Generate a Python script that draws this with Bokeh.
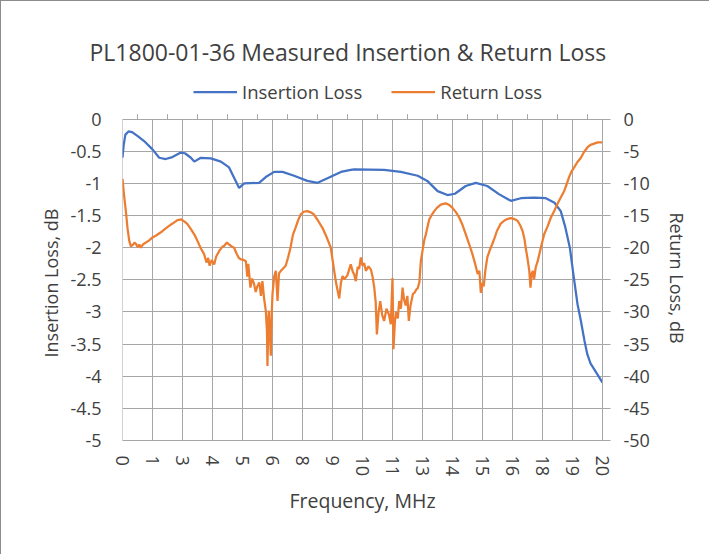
import math
from bokeh.plotting import figure
from bokeh.models import (Range1d, LinearAxis, FixedTicker, Legend, Title,
                          LegendItem, ColumnDataSource)
from bokeh.layouts import column
from bokeh.embed import file_html
from bokeh.resources import INLINE

# ---------------- data ----------------
title_text = "PL1800-01-36 Measured Insertion & Return Loss"
series_names = ["Insertion Loss", "Return Loss"]
x_title = "Frequency, MHz"
il_title = "Insertion Loss, dB"
rl_title = "Return Loss, dB"

x_tick_labels = ["0", "1", "3", "4", "5", "6", "8", "9", "10", "11",
                 "13", "14", "15", "16", "18", "19", "20"]
il_tick_labels = ["0", "-0.5", "-1", "-1.5", "-2", "-2.5", "-3", "-3.5",
                  "-4", "-4.5", "-5"]
rl_tick_labels = ["0", "-5", "-10", "-15", "-20", "-25", "-30", "-35",
                  "-40", "-45", "-50"]

il_freq = [0.0, 0.05, 0.12, 0.25, 0.4, 0.62, 0.9, 1.25, 1.53, 1.8, 2.08,
           2.43, 2.6, 2.85, 2.99, 3.26, 3.68, 4.1, 4.44, 4.65, 4.86, 5.07,
           5.69, 5.97, 6.32, 6.67, 7.15, 7.7, 8.13, 8.54, 9.1, 9.51, 9.65,
           10.9, 11.6, 12.3, 12.7, 13.13, 13.54, 13.85, 14.3, 14.72, 15.2,
           15.7, 16.18, 16.6, 17.15, 17.64, 18.0, 18.26, 18.45, 18.64, 18.8,
           18.96, 19.1, 19.25, 19.37, 19.5, 19.65, 19.8, 20.0]
il_db = [-0.60, -0.40, -0.24, -0.19, -0.20, -0.26, -0.34, -0.47, -0.60,
         -0.62, -0.59, -0.52, -0.53, -0.60, -0.66, -0.60, -0.61, -0.66,
         -0.75, -0.91, -1.07, -1.00, -0.99, -0.90, -0.82, -0.82, -0.88,
         -0.96, -0.99, -0.92, -0.82, -0.79, -0.78, -0.79, -0.82, -0.88,
         -0.96, -1.12, -1.18, -1.16, -1.04, -0.99, -1.04, -1.17, -1.27,
         -1.23, -1.22, -1.23, -1.30, -1.43, -1.68, -2.00, -2.45, -2.88,
         -3.14, -3.45, -3.66, -3.80, -3.89, -3.98, -4.10]

rl_freq = [0.0, 0.07, 0.14, 0.21, 0.28, 0.35, 0.42, 0.5, 0.56, 0.63, 0.7,
           0.76, 0.85, 0.97, 1.1, 1.25, 1.4, 1.6, 1.8, 1.94, 2.1, 2.29, 2.45,
           2.57, 2.7, 2.85, 3.0, 3.12, 3.25, 3.4, 3.5, 3.57, 3.63, 3.72, 3.82,
           3.9, 4.03, 4.15, 4.24, 4.35, 4.44, 4.55, 4.65, 4.75, 4.85, 4.93,
           5.05, 5.14, 5.2, 5.24, 5.28, 5.33, 5.4, 5.48, 5.55, 5.62, 5.7,
           5.77, 5.83, 5.9, 5.97, 6.02, 6.04, 6.08, 6.1, 6.15, 6.18, 6.22,
           6.25, 6.32, 6.39, 6.46, 6.52, 6.6, 6.7, 6.8, 6.9, 7.0, 7.1, 7.22,
           7.33, 7.43, 7.55, 7.7, 7.85, 7.97, 8.15, 8.33, 8.5, 8.68, 8.75,
           8.82, 8.9, 9.03, 9.1, 9.17, 9.24, 9.37, 9.51, 9.6, 9.65, 9.72,
           9.8, 9.86, 9.93, 10.0, 10.07, 10.14, 10.25, 10.35, 10.42, 10.49,
           10.55, 10.6, 10.67, 10.74, 10.82, 10.9, 11.0, 11.1, 11.18, 11.25,
           11.29, 11.35, 11.4, 11.47, 11.53, 11.6, 11.67, 11.73, 11.8, 11.87,
           11.93, 12.0, 12.1, 12.17, 12.24, 12.3, 12.37, 12.43, 12.5, 12.57,
           12.64, 12.7, 12.78, 12.9, 12.99, 13.1, 13.26, 13.47, 13.6, 13.75,
           13.9, 14.03, 14.15, 14.3, 14.45, 14.58, 14.7, 14.8, 14.87, 14.93,
           15.0, 15.05, 15.12, 15.2, 15.3, 15.4, 15.5, 15.6, 15.75, 15.9,
           16.05, 16.18, 16.3, 16.46, 16.57, 16.67, 16.75, 16.8, 16.88, 16.95,
           17.0, 17.05, 17.1, 17.15, 17.22, 17.3, 17.43, 17.57, 17.7, 17.85,
           18.0, 18.12, 18.26, 18.4, 18.5, 18.6, 18.7, 18.82, 18.95, 19.1,
           19.23, 19.37, 19.5, 19.65, 19.8, 20.0]
rl_db = [-9.3, -12.0, -14.3, -17.0, -18.9, -19.8, -19.6, -19.2, -19.4, -19.9,
         -19.5, -20.0, -19.5, -19.2, -18.9, -18.4, -18.1, -17.6, -17.0, -16.6,
         -16.2, -15.7, -15.6, -15.9, -16.3, -17.1, -18.0, -18.9, -20.0, -21.0,
         -22.3, -21.6, -22.8, -21.9, -22.6, -21.4, -20.5, -19.9, -19.7, -19.2,
         -19.5, -19.8, -20.0, -20.9, -21.6, -21.8, -21.9, -22.1, -24.5, -22.5,
         -24.1, -26.2, -24.8, -25.6, -26.9, -26.0, -25.4, -27.5, -25.2, -27.9,
         -29.8, -33.0, -38.4, -31.0, -29.8, -34.0, -36.8, -30.0, -27.2, -24.5,
         -23.6, -28.3, -24.0, -23.6, -23.2, -22.8, -21.5, -20.0, -18.0, -16.8,
         -15.6, -14.8, -14.4, -14.3, -14.5, -14.8, -15.8, -16.9, -18.3, -20.0,
         -21.8, -23.6, -25.5, -27.9, -25.5, -24.4, -24.9, -24.3, -22.6, -23.8,
         -24.1, -25.2, -23.0, -23.3, -21.5, -22.8, -22.4, -23.6, -22.9, -23.4,
         -24.5, -26.2, -28.5, -33.5, -30.0, -28.3, -30.5, -31.4, -29.5, -30.4,
         -31.9, -24.7, -35.8, -31.5, -30.0, -31.0, -28.3, -29.5, -26.2, -28.0,
         -29.0, -27.5, -31.4, -29.0, -27.2, -27.0, -26.5, -26.3, -25.4, -22.1,
         -20.5, -18.9, -17.9, -16.9, -15.6, -14.8, -14.3, -13.8, -13.3, -13.1,
         -13.3, -13.8, -14.5, -15.3, -16.3, -17.9, -19.5, -21.0, -22.6, -24.1,
         -23.6, -27.0, -25.5, -26.0, -23.5, -21.5, -20.4, -19.5, -18.5, -17.4,
         -16.3, -15.8, -15.5, -15.4, -15.5, -15.8, -16.5, -17.4, -18.7, -20.0,
         -21.8, -23.6, -26.2, -24.0, -23.6, -24.9, -23.0, -22.1, -20.0, -17.9,
         -16.8, -15.3, -14.2, -13.2, -12.2, -11.2, -10.2, -9.1, -8.2, -7.5,
         -6.7, -6.0, -5.1, -4.4, -4.0, -3.8, -3.6, -3.6]

# ---------------- styling / layout ----------------
FONT = "Open Sans"
TXT = "#404040"
GRID = "#a6a6a6"
BLUE = "#4472C4"
ORANGE = "#ED7D31"

W, H = 708, 553
LEFT, TOP = 121, 71          # canvas px of frame's top-left corner
FRAME_W, FRAME_H = 480, 368  # frame also holds the legend area
PX_PER_DB = 64.26            # left-axis pixels per dB (0 .. -5 spans 321 px)

x_lo, x_hi = 0.0, 20.0
step = (x_hi - x_lo) / (len(x_tick_labels) - 1)
x_pos = [x_lo + i * step for i in range(len(x_tick_labels))]
x_mid = [x_lo + (i + 0.5) * step for i in range(len(x_tick_labels) - 1)]
il_pos = [0.0 - 0.5 * i for i in range(len(il_tick_labels))]
rl_pos = [0.0 - 5.0 * i for i in range(len(rl_tick_labels))]
rl_scale = rl_pos[-1] / il_pos[-1]

il_bottom = il_pos[-1]
il_top = il_bottom + FRAME_H / PX_PER_DB

p = figure(width=W, height=H, output_backend="svg", toolbar_location=None,
           x_range=Range1d(x_lo, x_hi), y_range=Range1d(il_bottom, il_top),
           min_border_left=LEFT, min_border_right=W - LEFT - FRAME_W,
           min_border_top=TOP, min_border_bottom=H - TOP - FRAME_H)
p.extra_y_ranges = {"rl": Range1d(il_bottom * rl_scale, il_top * rl_scale)}
p.outline_line_color = None
p.background_fill_color = "white"
p.border_fill_color = "white"
p.xgrid.visible = False

# chart title (top panel), left edge 33 px left of the frame
p.title.text = title_text
p.title.align = "left"
p.title.offset = -33
p.title.text_font = FONT
p.title.text_font_size = "23px"
p.title.text_font_style = "normal"
p.title.text_color = TXT

# bottom axis
xa = p.xaxis[0]
xa.ticker = FixedTicker(ticks=x_pos)
xa.major_label_overrides = {pos: lab for pos, lab in zip(x_pos, x_tick_labels)}
xa.major_label_orientation = -math.pi / 2
xa.major_tick_out = 0
xa.major_tick_in = 0
xa.minor_tick_out = 0
xa.minor_tick_in = 0
xa.axis_line_color = GRID
xa.major_label_standoff = 15
xa.major_label_text_font = FONT
xa.major_label_text_font_size = "18px"
xa.major_label_text_color = TXT
xa.axis_label = x_title
xa.axis_label_text_font = FONT
xa.axis_label_text_font_style = "normal"
xa.axis_label_text_font_size = "19.5px"
xa.axis_label_text_color = TXT
xa.axis_label_standoff = 8

# left axis
ya = p.yaxis[0]
ya.ticker = FixedTicker(ticks=il_pos)
ya.bounds = (il_pos[-1], il_pos[0])
ya.major_label_overrides = {pos: lab for pos, lab in zip(il_pos, il_tick_labels)}
ya.major_tick_out = 0
ya.major_tick_in = 0
ya.minor_tick_out = 0
ya.minor_tick_in = 0
ya.axis_line_color = None
ya.major_label_standoff = 21
ya.major_label_text_font = FONT
ya.major_label_text_font_size = "18px"
ya.major_label_text_color = TXT

# right axis
ra = LinearAxis(y_range_name="rl", ticker=FixedTicker(ticks=rl_pos))
ra.bounds = (rl_pos[-1], rl_pos[0])
ra.major_label_overrides = {pos: lab for pos, lab in zip(rl_pos, rl_tick_labels)}
ra.major_tick_out = 8
ra.major_tick_in = 0
ra.minor_tick_out = 0
ra.minor_tick_in = 0
ra.major_tick_line_color = GRID
ra.axis_line_color = GRID
ra.major_label_standoff = 13
ra.major_label_text_font = FONT
ra.major_label_text_font_size = "18px"
ra.major_label_text_color = TXT
p.add_layout(ra, "right")

# axis titles in the side panels
il_t = Title(text=il_title, align="left", offset=83,
             text_font=FONT, text_font_size="18px",
             text_font_style="normal", text_color=TXT)
rl_t = Title(text=rl_title, align="left", offset=140,
             text_font=FONT, text_font_size="18px",
             text_font_style="normal", text_color=TXT)
if "standoff" in rl_t.properties():
    rl_t.standoff = 24
p.add_layout(il_t, "left")
p.add_layout(rl_t, "right")

# horizontal grid (0 .. -5 only)
p.ygrid.ticker = FixedTicker(ticks=il_pos)
p.ygrid.grid_line_color = GRID
p.ygrid.grid_line_width = 1

# vertical grid lines restricted to the plot area, and the small top ticks
p.segment(x0=x_pos, y0=[il_pos[-1]] * len(x_pos), x1=x_pos,
          y1=[il_pos[0]] * len(x_pos), line_color=GRID, line_width=1,
          level="underlay")
tick_len = 5 / PX_PER_DB
p.segment(x0=x_mid, y0=[il_pos[0]] * len(x_mid), x1=x_mid,
          y1=[il_pos[0] + tick_len] * len(x_mid), line_color=GRID,
          line_width=1, level="underlay")

# series
src_il = ColumnDataSource(dict(f=il_freq, v=il_db))
src_rl = ColumnDataSource(dict(f=rl_freq, v=rl_db))
r1 = p.line("f", "v", source=src_il, line_color=BLUE, line_width=2.25)
r2 = p.line("f", "v", source=src_rl, line_color=ORANGE, line_width=2.25,
            y_range_name="rl")

# legend (inside the frame, above the plot area)
legend = Legend(items=[LegendItem(label=series_names[0], renderers=[r1]),
                       LegendItem(label=series_names[1], renderers=[r2])],
                orientation="horizontal", location=(71, 336),
                glyph_width=44, glyph_height=25, label_height=25,
                label_standoff=5, spacing=29, padding=0, margin=0,
                border_line_color=None, background_fill_alpha=0,
                label_text_font=FONT, label_text_font_size="18.5px",
                label_text_color=TXT, label_text_baseline="middle")
p.add_layout(legend)

page = column(p, styles={"border-left": "1px solid #8c8c8c",
                         "border-top": "1px solid #8c8c8c"})

open("out.html", "w").write(file_html(page, INLINE))
